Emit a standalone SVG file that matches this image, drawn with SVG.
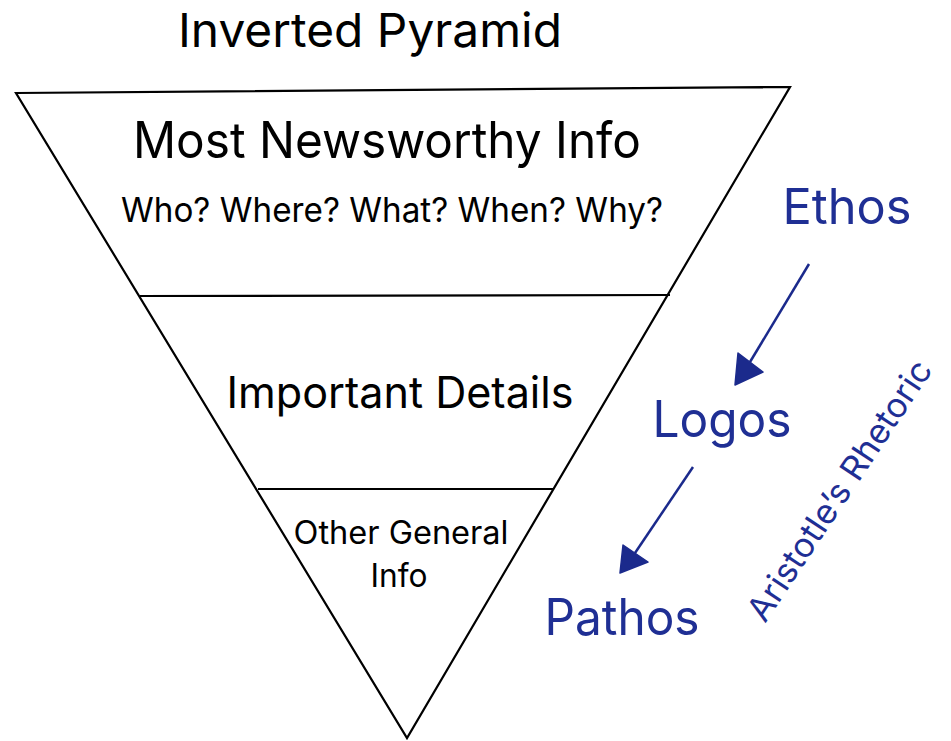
<svg xmlns="http://www.w3.org/2000/svg" width="951" height="741" viewBox="0 0 951 741">
<style>
.blk{font-family:Inter,"Liberation Sans",Arial,sans-serif;fill:#000}
.blu{font-family:Inter,"Liberation Sans",Arial,sans-serif;fill:#1f2f94}
.edge{stroke:#000;stroke-width:2.2;fill:none;stroke-linejoin:miter}
.arw{stroke:#1b2a8c;stroke-width:2.5;fill:none}
.head{fill:#1b2a8c;stroke:#1b2a8c;stroke-width:1.5;stroke-linejoin:round}
</style>
<rect width="951" height="741" fill="#fff"/>
<g id="title">
<text class="blk" x="370" y="47" font-size="47" text-anchor="middle" textLength="384" lengthAdjust="spacingAndGlyphs">Inverted Pyramid</text>
</g>
<g id="pyramid">
<path class="edge" d="M16,93 L790,87 L407,738 Z"/>
</g>
<g id="tier1">
<line class="edge" x1="140" y1="296" x2="670" y2="295"/>
<text class="blk" x="387" y="158" font-size="50" text-anchor="middle" textLength="508" lengthAdjust="spacingAndGlyphs">Most Newsworthy Info</text>
<text class="blk" x="392" y="222" font-size="34" text-anchor="middle" textLength="542" lengthAdjust="spacingAndGlyphs">Who? Where? What? When? Why?</text>
</g>
<g id="tier2">
<line class="edge" x1="258" y1="489" x2="553" y2="489"/>
<text class="blk" x="400" y="408" font-size="44" text-anchor="middle" textLength="347" lengthAdjust="spacingAndGlyphs">Important Details</text>
</g>
<g id="tier3">
<text class="blk" x="401" y="544" font-size="32" text-anchor="middle" textLength="215" lengthAdjust="spacingAndGlyphs">Other General</text>
<text class="blk" x="399" y="587" font-size="32" text-anchor="middle" textLength="57" lengthAdjust="spacingAndGlyphs">Info</text>
</g>
<g id="ethos">
<text class="blu" x="847" y="224" font-size="49" text-anchor="middle" textLength="129" lengthAdjust="spacingAndGlyphs">Ethos</text>
</g>
<g id="logos">
<text class="blu" x="722" y="437" font-size="50" text-anchor="middle" textLength="139" lengthAdjust="spacingAndGlyphs">Logos</text>
</g>
<g id="pathos">
<text class="blu" x="622" y="635" font-size="50" text-anchor="middle" textLength="155" lengthAdjust="spacingAndGlyphs">Pathos</text>
</g>
<g id="rhetoric">
<text class="blu" transform="translate(765,624) rotate(-56.5)" x="0" y="0" font-size="34" textLength="305" lengthAdjust="spacingAndGlyphs">Aristotle’s Rhetoric</text>
</g>
<g id="connectors">
<line class="arw" x1="809" y1="264" x2="750" y2="362"/>
<polygon class="head" points="738,353 763,372 735,385"/>
<line class="arw" x1="693" y1="467" x2="635" y2="553"/>
<polygon class="head" points="623,545 648,562 620,573"/>
</g>
</svg>
